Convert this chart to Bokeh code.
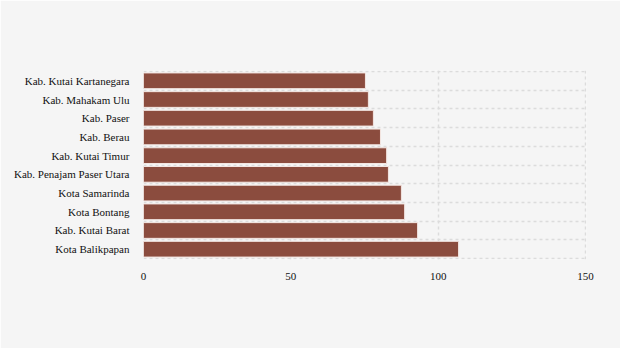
from bokeh.plotting import figure
from bokeh.models import FixedTicker, Range1d, ColumnDataSource
from bokeh.embed import file_html
from bokeh.resources import INLINE

categories = ["Kab. Kutai Kartanegara", "Kab. Mahakam Ulu", "Kab. Paser", "Kab. Berau",
              "Kab. Kutai Timur", "Kab. Penajam Paser Utara", "Kota Samarinda",
              "Kota Bontang", "Kab. Kutai Barat", "Kota Balikpapan"]
values = [75.3, 76.3, 78.0, 80.4, 82.5, 83.1, 87.5, 88.6, 93.0, 106.9]
x_ticks = [0, 50, 100, 150]

n = len(categories)
ypos = [n - i - 0.5 for i in range(n)]
src = ColumnDataSource(dict(y=ypos, v=values, c=categories))

p = figure(width=620, height=348, output_backend="svg", toolbar_location=None,
           x_range=Range1d(0, 150.3), y_range=Range1d(-0.05, n + 0.05),
           background_fill_color="#f5f5f5", border_fill_color="#f5f5f5",
           min_border_left=143, min_border_right=34, min_border_top=70, min_border_bottom=89)
p.outline_line_color = None

p.hbar(y="y", left=0, right="v", height=0.84, source=src,
       fill_color="#8b4c3e", line_color="#f3e6e2", line_width=1)

p.xaxis.ticker = FixedTicker(ticks=x_ticks)
p.yaxis.ticker = FixedTicker(ticks=ypos)
p.yaxis.major_label_overrides = {y: c for y, c in zip(ypos, categories)}
p.ygrid.ticker = FixedTicker(ticks=list(range(n + 1)))
p.xgrid.ticker = FixedTicker(ticks=x_ticks)

for ax in (p.xaxis, p.yaxis):
    ax.axis_line_color = None
    ax.major_tick_line_color = None
    ax.minor_tick_line_color = None
    ax.major_label_text_font = "Liberation Serif"
    ax.major_label_text_font_size = "11px"
    ax.major_label_text_color = "#111111"
p.yaxis.major_label_standoff = 8
p.xaxis.major_label_standoff = 7

for g in (p.xgrid, p.ygrid):
    g.grid_line_color = "#dcdcdc"
    g.grid_line_dash = "3 3"
    g.grid_line_width = 1.5

open("out.html", "w").write(file_html(p, INLINE))
